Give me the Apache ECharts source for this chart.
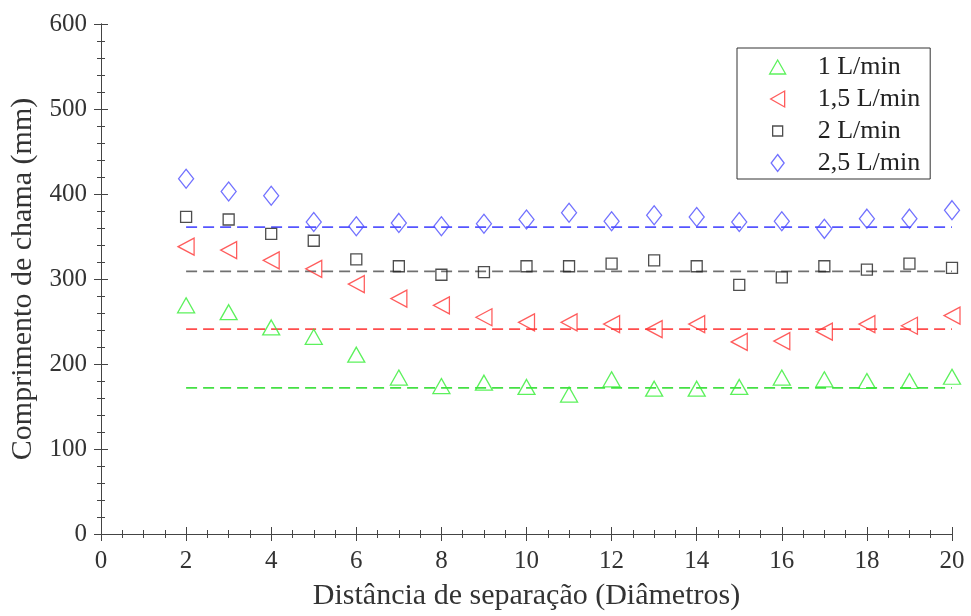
<!DOCTYPE html>
<html>
<head>
<meta charset="utf-8">
<script src="https://cdn.jsdelivr.net/npm/echarts@6/dist/echarts.min.js"></script>
<style>
  html, body { margin: 0; padding: 0; background: #fff; }
  #chart { width: 971px; height: 616px; }
</style>
</head>
<body>
<div id="chart"></div>
<script>
// distancia de separacao (diametros)
var dist = [2, 3, 4, 5, 6, 7, 8, 9, 10, 11, 12, 13, 14, 15, 16, 17, 18, 19, 20];

// comprimento de chama (mm) por vazao
var q1  = [269, 261, 243, 232, 211, 184, 174, 178, 173, 164, 182, 171, 171, 173, 184, 182, 180, 180, 185];
var q15 = [338, 334, 322, 312, 294, 277, 269, 255, 249, 249, 247, 241, 247, 226, 227, 238, 247, 245, 257];
var q2  = [373, 370, 353, 345, 323, 315, 305, 308, 315, 315, 318, 322, 315, 293, 302, 315, 311, 318, 313];
var q25 = [418, 403, 398, 367, 362, 366, 362, 365, 370, 378, 368, 375, 373, 367, 368, 359, 371, 371, 381];

// linhas tracejadas (media)
var means = [172, 241, 309, 361];
var names = ['1 L/min', '1,5 L/min', '2 L/min', '2,5 L/min'];
var cores = ['#33ee33', '#ff3333', '#222', '#4d4dff'];

var FONT = '"Liberation Serif", "Times New Roman", serif';

// icones da legenda (ja orientados, caixa 18x18)
var icones = [
	'path://M0,0 M18,18 M1,16 L9,2 L17,16 Z',
	'path://M0,0 M18,18 M16,1 L16,17 L2,9 Z',
	'path://M0,0 M18,18 M4,4 L14,4 L14,14 L4,14 Z',
	'path://M0,0 M18,18 M9,0.5 L15.5,9 L9,17.5 L2.5,9 Z'
];

function pts(vals){
	var out = [];
	for (var i = 0; i < dist.length; i++) out.push([dist[i], vals[i]]);
	return out;
}
function meanLine(v){
	return [[dist[0], v], [dist[dist.length - 1], v]];
}

function scatter(name, vals, symbol, size, rotate, color){
	return {
		name: name, type: 'scatter', data: pts(vals),
		symbol: symbol, symbolSize: size, symbolRotate: rotate,
		itemStyle: { color: 'rgba(255,255,255,0)', borderColor: color, borderWidth: 1.3 },
		emphasis: { disabled: true }, z: 3
	};
}
function dashed(v, color){
	return {
		type: 'line', data: meanLine(v), symbol: 'none', silent: true,
		lineStyle: { color: color, width: 1.7, type: [11, 6] }, z: 2
	};
}

var legendData = [];
for (var k = 0; k < names.length; k++) {
	legendData.push({
		name: names[k], icon: icones[k],
		itemStyle: { color: 'rgba(255,255,255,0)', borderColor: cores[k], borderWidth: 1.3 }
	});
}

function minor(n){
	return { show: true, splitNumber: n, length: 4, lineStyle: { color: '#444' } };
}
var axisLine = { lineStyle: { color: '#444', width: 1 } };
var axisTick = { inside: true, length: 7, lineStyle: { color: '#444' } };

var myChart = echarts.init(document.getElementById('chart'));
var option = {
	animation: false,
	backgroundColor: '#fff',
	grid: { left: 101, right: 19, top: 24, bottom: 82, containLabel: false, outerBoundsMode: 'none' },
	legend: {
		data: legendData,
		orient: 'vertical',
		left: 737, top: 48,
		padding: [6, 10, 3, 31],
		itemWidth: 70, itemHeight: 18, itemGap: 6,
		symbolKeepAspect: true,
		borderColor: '#333', borderWidth: 1,
		textStyle: { fontFamily: FONT, fontSize: 26, color: '#222', width: 104, overflow: 'none' },
		selectedMode: false
	},
	xAxis: [
		{
			type: 'value', min: 0, max: 20, interval: 2,
			name: 'Distância de separação (Diâmetros)', nameLocation: 'middle', nameGap: 47,
			nameTextStyle: { fontFamily: FONT, fontSize: 30, color: '#333' },
			axisLabel: { fontFamily: FONT, fontSize: 25, color: '#333', margin: 15 },
			axisLine: axisLine, axisTick: axisTick, minorTick: minor(4), splitLine: { show: false }
		},
		{
			type: 'value', min: 0, max: 20, interval: 2, position: 'top',
			axisLabel: { show: false },
			axisLine: axisLine, axisTick: axisTick, minorTick: minor(4), splitLine: { show: false }
		}
	],
	yAxis: [
		{
			type: 'value', min: 0, max: 600, interval: 100,
			name: 'Comprimento de chama (mm)', nameLocation: 'middle', nameGap: 63,
			nameTextStyle: { fontFamily: FONT, fontSize: 30, color: '#333' },
			axisLabel: { fontFamily: FONT, fontSize: 25, color: '#333', margin: 14 },
			axisLine: axisLine, axisTick: axisTick, minorTick: minor(5), splitLine: { show: false }
		},
		{
			type: 'value', min: 0, max: 600, interval: 100, position: 'right',
			axisLabel: { show: false },
			axisLine: axisLine, axisTick: axisTick, minorTick: minor(5), splitLine: { show: false }
		}
	],
	series: [
		dashed(means[0], '#44e044'),
		dashed(means[1], '#ff4d4d'),
		dashed(means[2], '#707070'),
		dashed(means[3], '#5555ff'),
		scatter(names[0], q1, 'triangle', [17, 15], 0, cores[0]),
		scatter(names[1], q15, 'triangle', [17, 16], 90, cores[1]),
		scatter(names[2], q2, 'rect', [11, 11], 0, cores[2]),
		scatter(names[3], q25, 'diamond', [15, 19], 0, cores[3])
	]
};
myChart.setOption(option);
</script>
</body>
</html>
